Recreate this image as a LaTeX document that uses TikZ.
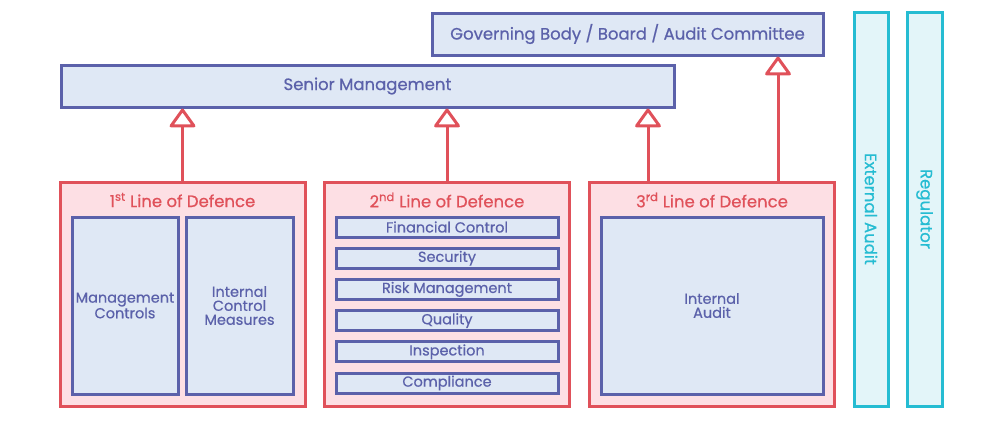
\documentclass[tikz,border=0pt]{standalone}
\usepackage{fontspec}
\setmainfont{Poppins}[FakeBold=0.6]
\usetikzlibrary{arrows.meta}
\definecolor{navy}{HTML}{5B61AA}
\definecolor{navyfill}{HTML}{DFE8F5}
\definecolor{rose}{HTML}{E0515A}
\definecolor{rosefill}{HTML}{FDDFE4}
\definecolor{aqua}{HTML}{25BCD2}
\definecolor{aquafill}{HTML}{E3F5F9}

\begin{document}
\begin{tikzpicture}[x=1pt,y=-1pt,
	bluebox/.style={draw=navy,fill=navyfill,line width=3pt,text=navy,inner sep=0pt,align=center,font=\fontsize{16.5}{18}\selectfont},
	redbox/.style={draw=rose,fill=rosefill,line width=3pt,inner sep=0pt,minimum width=245pt,minimum height=224pt},
	redtitle/.style={text=rose,inner sep=0pt,font=\fontsize{16.5}{18}\selectfont},
	aquabox/.style={draw=aqua,fill=aquafill,line width=3pt,text=aqua,inner sep=0pt,minimum height=394pt},
	aqualabel/.style={text=aqua,rotate=-90,font=\fontsize{16.5}{18}\selectfont},
	small/.style={font=\fontsize{14.5}{14}\selectfont},
	bar/.style={minimum width=222pt,minimum height=20pt},
	arr/.style={draw=rose,line width=3pt,-{Triangle[open,width=28pt,length=20pt,round]}}]
\useasboundingbox (0,0) rectangle (1001,437);

%top
\node[bluebox,minimum width=391pt,minimum height=42pt] (board) at (627.5,34) {Governing Body / Board / Audit Committee};
\node[bluebox,minimum width=613pt,minimum height=42pt] (senior) at (367.5,86) {Senior Management};

%lines of defence
\node[redbox] (line1) at (182.5,294) {};
\node[redbox] (line2) at (447,294) {};
\node[redbox] (line3) at (712,294) {};
\node[redtitle] (title1) at (182.5,200) {1\textsuperscript{st} Line of Defence};
\node[redtitle] (title2) at (447,200) {2\textsuperscript{nd} Line of Defence};
\node[redtitle] (title3) at (712,200) {3\textsuperscript{rd} Line of Defence};

%first line
\node[bluebox,small,minimum width=106pt,minimum height=177pt] (mgmt) at (125,305.5) {Management\\Controls};
\node[bluebox,small,minimum width=107pt,minimum height=177pt] (icm) at (239.5,305.5) {Internal\\Control\\Measures};

%second line
\foreach \name [count=\i] in {Financial Control,Security,Risk Management,Quality,Inspection,Compliance}
	\node[bluebox,small,bar] (bar\i) at (447,{227+31.2*(\i-1)}) {\name};

%third line
\node[bluebox,small,minimum width=222pt,minimum height=177pt] (audit) at (712,305.5) {Internal\\Audit};

%outside
\node[aquabox,minimum width=34pt] (external) at (871,209) {};
\node[aquabox,minimum width=35pt] (regulator) at (924.5,209) {};
\node[aqualabel] (extlabel) at (external) {External Audit};
\node[aqualabel] (reglabel) at (regulator) {Regulator};

%arrows
\coordinate (a3) at (648,182);
\coordinate (a4) at (778,182);
\draw[arr] (line1.north) -- (line1.north |- senior.south);
\draw[arr] (line2.north) -- (line2.north |- senior.south);
\draw[arr] (a3) -- (a3 |- senior.south);
\draw[arr] (a4) -- (a4 |- board.south);
\end{tikzpicture}
\end{document}
